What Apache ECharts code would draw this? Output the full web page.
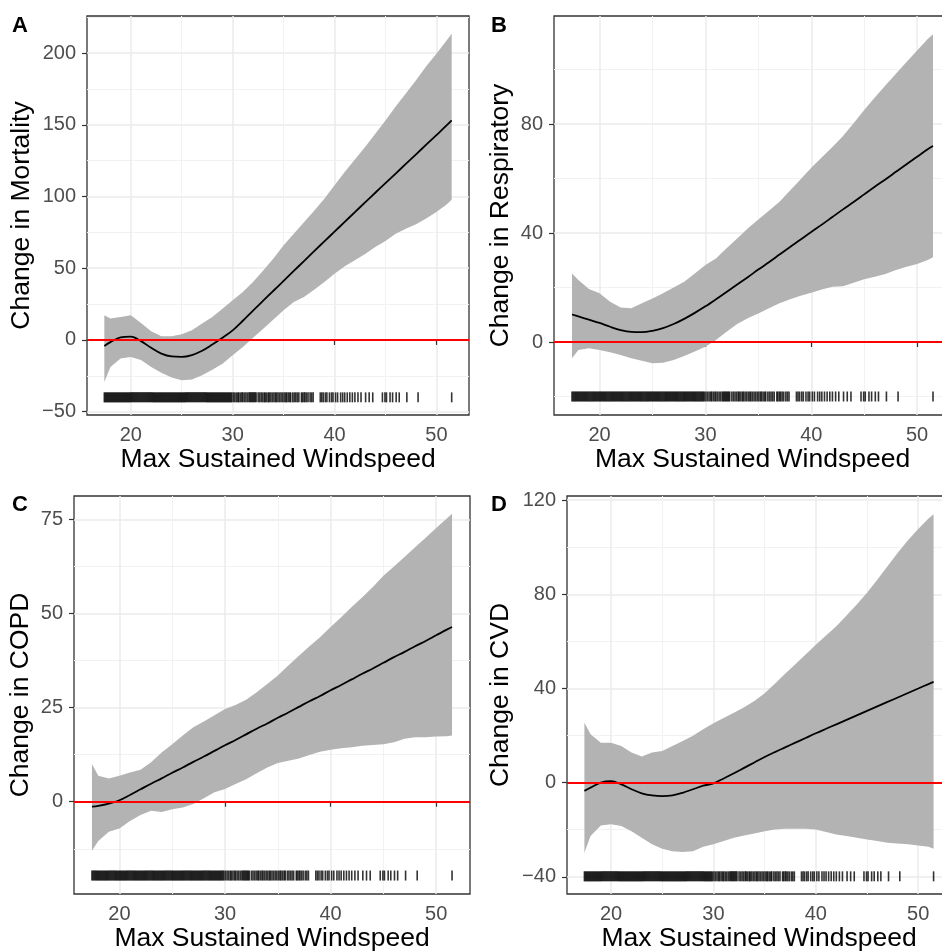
<!DOCTYPE html>
<html>
<head>
<meta charset="utf-8">
<title>Change in outcomes by max sustained windspeed</title>
<script src="https://cdn.jsdelivr.net/npm/echarts@6/dist/echarts.min.js"></script>
<style>
  html, body { margin: 0; padding: 0; background: #fff; }
  #chart { width: 942px; height: 952px; }
</style>
</head>
<body>
<div id="chart"></div>
<script>
const windspeed = [17.4, 18, 19, 20, 21, 22, 23, 24, 25, 26, 27, 28, 29, 30, 31, 32, 33, 34,
  35, 36, 37, 38, 39, 40, 41, 42, 43, 44, 45, 46, 47, 48, 49, 50, 51, 51.5]

const mortalityFit = [-4.2, -1.5, 1.8, 2.3, -0.8, -5.5, -9.5, -11.5, -11.8, -10.5, -7.5, -3.2, 1.5, 6.7, 13.4, 20.5, 27.4, 34.3,
  41.2, 48.1, 55, 61.9, 68.7, 75.5, 82.3, 89.1, 95.9, 102.6, 109.3, 116, 122.7, 129.4, 136.1, 142.8, 149.5, 153]
const mortalityUpper = [17.2, 15, 16, 17.2, 11.8, 6, 2.6, 2.6, 4, 6.7, 11.4, 16, 21.8, 27.6, 33.4, 40.4, 48.5, 56.7,
  66, 74, 82, 90, 98.5, 107.8, 117, 125.7, 134.5, 143.8, 153, 162.8, 171.7, 181, 190.7, 199.5, 208.8, 213.5]
const mortalityLower = [-29.3, -18.8, -13, -11.8, -14, -18.8, -22.8, -26.2, -28, -27.6, -24.6, -20.7, -16.5, -10.7, -4.9, 1.6, 7.9, 14.2,
  20.7, 26.5, 30, 35, 40.4, 46.2, 51.3, 55.5, 60, 64.8, 69, 74, 77.6, 80.6, 84.6, 89.2, 94.5, 97.8]

const respiratoryFit = [10.1, 9.4, 8.2, 7, 5.6, 4.4, 3.7, 3.6, 4.1, 5.1, 6.6, 8.5, 10.7, 13.1, 15.7, 18.4, 21.1, 23.8,
  26.6, 29.3, 32.1, 34.9, 37.6, 40.4, 43.1, 45.9, 48.7, 51.4, 54.2, 57, 59.7, 62.5, 65.3, 68, 70.8, 72]
const respiratoryUpper = [25.2, 22.8, 19.5, 17.9, 14.8, 12.7, 12.4, 14.2, 16, 17.9, 20, 22.1, 25.2, 28.3, 30.7, 34.4, 38, 41.7,
  45, 48.2, 51.5, 55.6, 59.8, 64, 67.8, 71.6, 75.6, 80.3, 85.2, 89.8, 94.2, 98.5, 102.8, 107, 111.3, 113]
const respiratoryLower = [-6, -2.9, -2.3, -2.9, -3.8, -4.8, -6, -6.9, -7.8, -7.6, -6.6, -5.1, -3.5, -1.7, 0.7, 3.8, 6.6, 8.7,
  10.5, 12.4, 14.2, 15.7, 17, 18.1, 19.3, 20.3, 20.5, 21.8, 23, 24, 25, 26.4, 27.6, 28.6, 30.1, 31.1]

const copdFit = [-1.3, -1.1, -0.5, 0.4, 1.8, 3.3, 4.8, 6.2, 7.7, 9.1, 10.6, 12, 13.5, 15, 16.4, 17.9, 19.4, 20.8,
  22.3, 23.7, 25.2, 26.7, 28.1, 29.6, 31, 32.5, 34, 35.4, 36.9, 38.4, 39.8, 41.3, 42.7, 44.2, 45.7, 46.4]
const copdUpper = [10, 6.9, 6.2, 6.9, 7.8, 8.5, 10.5, 13.1, 15.3, 17.6, 19.8, 21.3, 23, 24.6, 25.7, 27.1, 29.1, 31.3,
  33.5, 36.2, 38.8, 41.3, 43.7, 46.4, 49, 51.7, 54.3, 57, 60, 62.5, 65, 67.6, 70.1, 72.7, 75.2, 76.5]
const copdLower = [-13, -10.4, -8, -7.1, -5.1, -3.5, -2.4, -2.7, -2, -1.5, -0.6, 0.9, 2.5, 3.4, 4.7, 6, 7.6, 9.1,
  10.3, 10.9, 11.5, 12.4, 13.3, 13.8, 14.2, 14.5, 14.9, 15.1, 15.3, 15.8, 16.7, 17.1, 17.1, 17.3, 17.4, 17.6]

const cvdFit = [-3.5, -2.1, 0, 0.6, -0.7, -2.8, -4.5, -5.4, -5.7, -5.4, -4.3, -2.8, -1.3, -0.3, 1.8, 4, 6.3, 8.6,
  10.9, 13, 15, 17, 19, 21, 22.9, 24.8, 26.7, 28.6, 30.5, 32.4, 34.3, 36.2, 38.1, 40, 41.9, 42.8]
const cvdUpper = [25.5, 20.6, 17, 17, 15.6, 12.8, 11.1, 12.8, 13.5, 15.6, 17.7, 19.9, 22.7, 25.2, 27.5, 29.7, 32, 34.7,
  38, 42, 46.3, 50.3, 54.5, 58.6, 62.5, 66.5, 71, 75.7, 80.7, 86.2, 92, 97.7, 103, 107.8, 112.2, 114]
const cvdLower = [-29.8, -22.7, -18.2, -17.7, -18.4, -20.6, -23.4, -26.2, -28.1, -29.1, -29.5, -29.1, -27.2, -26.2, -24.8, -23.4, -22.4, -21.6,
  -20.6, -19.9, -19.6, -19.6, -19.6, -19.9, -21, -22, -22.7, -23.4, -24.1, -24.8, -25.5, -25.8, -26.2, -26.7, -27.2, -28.1]

// observed windspeeds shown as the rug
const rugSpeeds = [
  17.4, 17.5, 17.6, 17.7, 17.8, 17.9,
  18.0, 18.1, 18.2, 18.3, 18.4, 18.5, 18.6, 18.7, 18.8, 18.9,
  19.0, 19.1, 19.2, 19.3, 19.4, 19.5, 19.6, 19.7, 19.8, 19.9,
  20.0, 20.1, 20.2, 20.3, 20.4, 20.5, 20.6, 20.7, 20.8, 20.9,
  21.0, 21.1, 21.2, 21.3, 21.4, 21.5, 21.6, 21.7, 21.8, 21.9,
  22.0, 22.1, 22.2, 22.3, 22.4, 22.5, 22.6, 22.7, 22.8, 22.9,
  23.0, 23.1, 23.2, 23.3, 23.4, 23.5, 23.6, 23.7, 23.8, 23.9,
  24.0, 24.1, 24.2, 24.3, 24.4, 24.5, 24.6, 24.7, 24.8, 24.9,
  25.0, 25.1, 25.2, 25.3, 25.4, 25.5, 25.6, 25.7, 25.8, 25.9,
  26.0, 26.1, 26.2, 26.3, 26.4, 26.5, 26.6, 26.7, 26.8, 26.9,
  27.0, 27.1, 27.2, 27.3, 27.4, 27.5, 27.6, 27.7, 27.8, 27.9,
  28.0, 28.1, 28.2, 28.3, 28.4, 28.5, 28.6, 28.7, 28.8, 28.9,
  29.0, 29.1, 29.2, 29.3, 29.4, 29.5, 29.6, 29.7, 29.8, 29.9,
  30.05, 30.2, 30.35, 30.5, 30.6, 30.75, 30.9, 31.0, 31.15, 31.3, 31.45, 31.6, 31.7, 31.8, 31.9,
  32.0, 32.1, 32.2, 32.3, 32.5, 32.65, 32.8, 32.95, 33.1, 33.2, 33.35, 33.5, 33.6, 33.75, 33.9,
  34.05, 34.2, 34.3, 34.45, 34.6, 34.75, 34.9, 35.05, 35.2, 35.3, 35.45, 35.6, 35.7, 35.9,
  36.05, 36.2, 36.35, 36.5, 36.75, 36.85, 37.0, 37.1, 37.25, 37.4, 37.6, 37.75, 37.9,
  38.6, 38.75, 38.9, 39.1, 39.25, 39.5, 39.7, 39.85, 40.1, 40.3, 40.6, 40.8,
  41.0, 41.25, 41.5, 41.75, 42.0, 42.3, 42.6, 43.05, 43.4, 43.75,
  44.7, 44.95, 45.1, 45.45, 45.7, 46.05, 46.35, 47.1, 48.2, 51.5
]

const xTicks = [20, 30, 40, 50]
const xMinorTicks = [25, 35, 45]
const mortalityTicks = [-50, 0, 50, 100, 150, 200]
const mortalityMinor = [-25, 25, 75, 125, 175, 225]
const respiratoryTicks = [0, 40, 80]
const respiratoryMinor = [-20, 20, 60, 100]
const copdTicks = [0, 25, 50, 75]
const copdMinor = [-12.5, 12.5, 37.5, 62.5]
const cvdTicks = [-40, 0, 40, 80, 120]
const cvdMinor = [-20, 20, 60, 100]

const FONT = '"Liberation Sans", Arial, Helvetica, sans-serif'
const BAND = '#b3b3b3'

const panels = [
  { tag: 'A', title: 'Change in Mortality', fit: mortalityFit, upper: mortalityUpper, lower: mortalityLower,
    yMin: -52.3, yMax: 225.8, ticks: mortalityTicks, minor: mortalityMinor, rugAt: -40,
    grid: { left: 87, top: 16, width: 382, height: 399 }, yGap: 52 },
  { tag: 'B', title: 'Change in Respiratory', fit: respiratoryFit, upper: respiratoryUpper, lower: respiratoryLower,
    yMin: -26.8, yMax: 119.7, ticks: respiratoryTicks, minor: respiratoryMinor, rugAt: -20,
    grid: { left: 554, top: 16, width: 397, height: 399 }, yGap: 40 },
  { tag: 'C', title: 'Change in COPD', fit: copdFit, upper: copdUpper, lower: copdLower,
    yMin: -24.5, yMax: 81.2, ticks: copdTicks, minor: copdMinor, rugAt: -19.6,
    grid: { left: 74, top: 496, width: 396, height: 398 }, yGap: 40 },
  { tag: 'D', title: 'Change in CVD', fit: cvdFit, upper: cvdUpper, lower: cvdLower,
    yMin: -47.3, yMax: 121.8, ticks: cvdTicks, minor: cvdMinor, rugAt: -39.8,
    grid: { left: 567, top: 496, width: 384, height: 398 }, yGap: 53 }
]

const minusSign = v => (v < 0 ? '\u2212' + Math.abs(v) : String(v))

const grids = []
const xAxes = []
const yAxes = []
const series = []
const graphics = []

panels.forEach((p, i) => {
  grids.push(Object.assign({
    show: true,
    borderColor: '#333333',
    borderWidth: 1.3,
    backgroundColor: 'transparent',
    outerBoundsMode: 'none'
  }, p.grid))

  // major x axis (ticks, labels, major grid)
  xAxes.push({
    type: 'value', gridIndex: i, min: 15.7, max: 53.2,
    name: 'Max Sustained Windspeed', nameLocation: 'middle', nameGap: 31,
    nameTextStyle: { fontFamily: FONT, fontSize: 26.5, color: '#000' },
    axisLine: { show: false },
    axisTick: { show: true, length: 5, customValues: xTicks, lineStyle: { color: '#333', width: 1.2 } },
    axisLabel: { customValues: xTicks, margin: 10, fontFamily: FONT, fontSize: 20, color: '#4d4d4d' },
    splitLine: { show: true, lineStyle: { color: '#ebebeb', width: 1.5 } }
  })
  // minor x grid
  xAxes.push({
    type: 'value', gridIndex: i, min: 15.7, max: 53.2,
    axisLine: { show: false },
    axisTick: { show: false, customValues: xMinorTicks },
    axisLabel: { show: false, customValues: xMinorTicks },
    splitLine: { show: true, lineStyle: { color: '#f2f2f2', width: 1 } }
  })

  yAxes.push({
    type: 'value', gridIndex: i, min: p.yMin, max: p.yMax,
    name: p.title, nameLocation: 'middle', nameGap: p.yGap, nameRotate: 90,
    nameTextStyle: { fontFamily: FONT, fontSize: 26.5, color: '#000' },
    axisLine: { show: false },
    axisTick: { show: true, length: 5, customValues: p.ticks, lineStyle: { color: '#333', width: 1.2 } },
    axisLabel: { customValues: p.ticks, margin: 11, fontFamily: FONT, fontSize: 20, color: '#4d4d4d', formatter: minusSign },
    splitLine: { show: true, lineStyle: { color: '#ebebeb', width: 1.5 } }
  })
  yAxes.push({
    type: 'value', gridIndex: i, min: p.yMin, max: p.yMax,
    axisLine: { show: false },
    axisTick: { show: false, customValues: p.minor },
    axisLabel: { show: false, customValues: p.minor },
    splitLine: { show: true, lineStyle: { color: '#f2f2f2', width: 1 } }
  })

  const xi = i * 2
  const yi = i * 2

  // confidence band
  series.push({
    type: 'custom', xAxisIndex: xi, yAxisIndex: yi, silent: true, z: 2,
    data: [[windspeed[0], p.fit[0]]],
    renderItem: (params, api) => {
      const pts = windspeed.map((s, k) => api.coord([s, p.upper[k]]))
      for (let k = windspeed.length - 1; k >= 0; k--) {
        pts.push(api.coord([windspeed[k], p.lower[k]]))
      }
      return { type: 'polygon', shape: { points: pts }, style: { fill: BAND } }
    }
  })

  // rug of observed windspeeds
  series.push({
    type: 'scatter', xAxisIndex: xi, yAxisIndex: yi, silent: true, z: 3,
    symbol: 'rect', symbolSize: [1.6, 10],
    itemStyle: { color: '#000' },
    data: rugSpeeds.map(s => [s, p.rugAt])
  })

  // smooth fit + zero reference
  series.push({
    type: 'line', xAxisIndex: xi, yAxisIndex: yi, silent: true, z: 4,
    showSymbol: false, smooth: 0.35,
    lineStyle: { color: '#000', width: 1.8 },
    data: windspeed.map((s, k) => [s, p.fit[k]]),
    markLine: {
      silent: true, symbol: ['none', 'none'],
      label: { show: false },
      lineStyle: { color: '#ff0000', width: 2, type: 'solid' },
      data: [{ yAxis: 0 }]
    }
  })

  graphics.push({
    type: 'text',
    left: i % 2 === 0 ? 12 : 491,
    top: i < 2 ? 15 : 494,
    style: { text: p.tag, font: 'bold 22px ' + FONT, fill: '#000' }
  })
})

const chart = echarts.init(document.getElementById('chart'))
chart.setOption({
  animation: false,
  backgroundColor: '#fff',
  textStyle: { fontFamily: FONT },
  grid: grids,
  xAxis: xAxes,
  yAxis: yAxes,
  series: series,
  graphic: graphics
})
</script>
</body>
</html>
